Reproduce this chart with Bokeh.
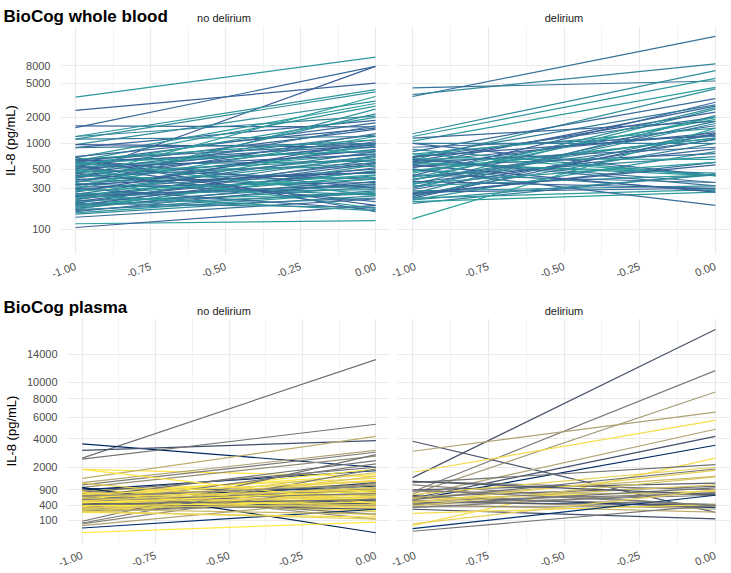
import math
from bokeh.plotting import figure
from bokeh.layouts import column, row
from bokeh.models import (Range1d, FixedTicker, CustomJSTickFormatter, PrintfTickFormatter,
                          ColumnDataSource)
from bokeh.core.properties import value
from bokeh.palettes import Cividis256
from bokeh.embed import file_html
from bokeh.resources import INLINE

# ---------------- data ----------------
time_points = [-1.0, 0.0]
x_ticks = [-1.0, -0.75, -0.5, -0.25, 0.0]
x_minor = [-0.875, -0.625, -0.375, -0.125]

wb_ticks = [100, 300, 500, 1000, 2000, 5000, 8000]
pl_ticks = [100, 400, 900, 2000, 4000, 6000, 8000, 10000, 14000]

row_titles = ["BioCog whole blood", "BioCog plasma"]
strip_labels = ["no delirium", "delirium"]

# BioCog whole blood, no delirium: value at -1, value at 0, colour position (0 blue .. 1 teal)
wb_nodel_pre = [3440, 2410, 1590, 1520, 440, 1200, 1120, 965, 890, 1200, 680, 620,
                600, 560, 540, 520, 500, 480, 470, 450, 430, 420, 400, 390, 380, 370, 360, 350,
                340, 330, 320, 310, 300, 290, 280, 270, 260, 255, 250, 240, 235, 230, 225, 220,
                215, 210, 205, 200, 195, 190, 185, 180, 175, 170, 165, 160, 155, 150,
                138, 116, 105, 650, 600, 550, 500, 450, 680, 300, 250, 200, 1120, 965, 890, 700,
                650, 620, 580, 550, 400, 300, 350, 640, 590, 510, 460, 410, 330, 280, 245, 190, 170]
wb_nodel_post = [10050, 5000, 1550, 7850, 7850, 4210, 3960, 3090, 1850, 2070, 2900, 2700,
                 1730, 620, 1450, 900, 380, 1250, 540, 1100, 300, 980, 760, 1600, 450, 850, 400, 1300,
                 250, 700, 1200, 350, 930, 500, 680, 1050, 290, 800, 430, 600, 320, 1000, 470, 720,
                 260, 580, 420, 650, 340, 520, 310, 480, 390, 560, 280, 360, 270, 245,
                 225, 126, 190, 300, 250, 190, 175, 210, 160, 170, 165, 180, 1200, 900, 1000, 1500,
                 1100, 800, 950, 2000, 3500, 2500, 2200, 1000, 820, 740, 640, 590, 460, 380, 330, 260, 230]
wb_nodel_col = [0.85, 0.15, 0.2, 0.25, 0.1, 0.8, 0.75, 0.7, 0.2, 0.6, 0.9, 0.8,
                0.3, 0.6, 0.2, 0.85, 0.1, 0.5, 0.9, 0.3, 0.7, 0.2, 0.95, 0.4, 0.6, 0.15, 0.85, 0.3,
                0.75, 0.5, 0.9, 0.2, 0.65, 0.35, 0.8, 0.1, 0.7, 0.45, 0.9, 0.25, 0.6, 0.85, 0.3, 0.55,
                0.95, 0.2, 0.7, 0.4, 0.8, 0.15, 0.6, 0.9, 0.35, 0.75, 0.5, 0.25, 0.85, 0.65,
                0.3, 0.9, 0.1, 0.2, 0.8, 0.15, 0.9, 0.3, 0.1, 0.2, 0.85, 0.6, 0.5, 0.1, 0.4, 0.2,
                0.85, 0.15, 0.3, 0.85, 0.9, 0.8, 0.7, 0.4, 0.9, 0.2, 0.75, 0.55, 0.1, 0.95, 0.3, 0.65, 0.5]

# BioCog whole blood, delirium
wb_del_pre = [3500, 3680, 4400, 1290, 1200, 1060, 640, 800, 420, 700, 560, 330, 620, 260, 680,
              450, 1150, 300, 520, 750, 240, 610, 380, 900, 470, 290, 1000, 350, 220, 540, 410,
              660, 250, 580, 320, 760, 200, 430, 280, 360, 230, 500, 210, 270, 132, 1000, 850,
              500, 660, 600, 560, 380, 230, 400, 370, 310, 480, 700, 250, 600, 340, 260, 220, 650]
wb_del_post = [17500, 8400, 5300, 7000, 5700, 4460, 4300, 3300, 3000, 2800, 2700, 2500, 2300, 2100, 2000,
               1900, 1800, 1700, 1600, 1500, 1400, 1320, 1250, 1200, 1150, 1120, 1000, 860, 800, 760, 700,
               650, 600, 450, 430, 420, 440, 350, 320, 300, 290, 280, 270, 300, 1500, 420, 420,
               190, 350, 420, 270, 1100, 1300, 2000, 2600, 1800, 1150, 1250, 1000, 900, 600, 560, 430, 320]
wb_del_col = [0.35, 0.6, 0.4, 0.7, 0.85, 0.9, 0.75, 0.3, 0.15, 0.5, 0.2, 0.8, 0.1, 0.6, 0.35,
              0.9, 0.25, 0.7, 0.15, 0.85, 0.45, 0.2, 0.65, 0.3, 0.9, 0.1, 0.55, 0.2, 0.8, 0.25, 0.6,
              0.9, 0.35, 0.75, 0.85, 0.95, 0.5, 0.3, 0.7, 0.15, 0.85, 0.6, 0.9, 0.2, 0.95, 0.25, 0.7,
              0.3, 0.4, 0.85, 0.1, 0.5, 0.2, 0.9, 0.75, 0.45, 0.8, 0.2, 0.6, 0.3, 0.85, 0.15, 0.7, 0.4]

# BioCog plasma, no delirium (colour position 0 navy .. 1 yellow)
pl_nodel_pre = [2570, 3600, 3100, 2500, 1880, 1400, 1200, 1100,
                1000, 950, 900, 880, 850, 800, 780, 760, 740, 720, 700, 680, 660, 640, 620,
                600, 580, 560, 540, 520, 500, 480, 460, 440, 420, 400, 390, 380, 370, 360, 350,
                340, 330, 320, 310, 300, 290, 280, 270, 260, 250, 240, 235,
                1180, 1000, 900, 800, 700, 600, 500, 450, 90, 70, 61, 26,
                4.4, 45, 235, 260, 300, 1880, 640, 560, 480, 420, 380, 330, 720, 660, 520, 460]
pl_nodel_post = [13200, 2000, 3860, 5290, 1500, 4200, 3110, 2970,
                 2700, 900, 1800, 560, 1400, 2000, 700, 1250, 440, 1600, 840, 380, 1150, 2400, 600,
                 1050, 750, 1900, 500, 1300, 870, 340, 1000, 650, 2200, 480, 1200, 720, 400, 1700, 580,
                 950, 360, 1100, 800, 460, 1500, 630, 420, 780, 540, 680, 520,
                 300, 4, 120, 180, 200, 250, 280, 300, 2800, 1900, 1200, 300,
                 80, 600, 150, 120, 200, 450, 900, 760, 640, 560, 480, 420, 1300, 1100, 980, 860]
pl_nodel_col = [0.45, 0.05, 0.25, 0.45, 0.98, 0.75, 0.7, 0.5,
                0.6, 0.2, 0.05, 0.85, 0.95, 0.4, 0.1, 0.9, 0.55, 1.0, 0.3, 0.8, 0.95, 0.45, 0.9,
                0.15, 0.85, 1.0, 0.6, 0.9, 0.35, 0.95, 0.75, 1.0, 0.5, 0.9, 0.2, 0.95, 0.65, 0.85, 1.0,
                0.4, 0.9, 0.7, 0.95, 0.3, 0.85, 1.0, 0.55, 0.9, 0.1, 0.95, 0.65,
                0.9, 0.02, 0.6, 0.95, 0.5, 0.85, 1.0, 0.3, 0.45, 0.5, 0.55, 0.08,
                1.0, 0.7, 0.95, 0.9, 0.8, 0.98, 0.95, 0.5, 0.9, 0.4, 1.0, 0.85, 0.95, 0.6, 0.9, 1.0]

# BioCog plasma, delirium
pl_del_pre = [1440, 3800, 825, 750, 3040, 1720, 670, 600, 560, 45,
              1260, 1200, 1100, 900, 850, 720, 680, 650, 620, 600, 580, 560, 540, 520, 500, 480,
              460, 440, 420, 400, 380, 360, 340, 300,
              215, 22, 9, 1260, 900, 61]
pl_del_post = [18100, 234, 11600, 8800, 6500, 5660, 4830, 4200, 3490, 2570,
               900, 2160, 380, 1180, 720, 2000, 340, 1040, 1500, 420, 850, 1900, 300, 760, 1100, 400,
               1820, 700, 240, 980, 1480, 360, 800, 121,
               420, 700, 400, 720, 400, 900]
pl_del_col = [0.3, 0.3, 0.5, 0.65, 0.7, 0.95, 0.7, 0.25, 0.05, 0.95,
              0.5, 0.45, 0.55, 0.35, 0.6, 0.9, 0.05, 0.4, 0.8, 0.5, 0.95, 0.45, 0.7, 0.5, 0.85, 0.3,
              0.9, 0.5, 0.75, 0.45, 0.85, 0.55, 0.5, 0.25,
              0.95, 0.1, 0.45, 0.3, 0.5, 0.9]

# ---------------- styling helpers ----------------
FONT = "Liberation Sans"
WB_LOW = (0x3D, 0x55, 0x98)
WB_HIGH = (0x2B, 0xA5, 0x9C)


def wb_color(t):
    r, g, b = (int(round(lo + (hi - lo) * t)) for lo, hi in zip(WB_LOW, WB_HIGH))
    return "#%02x%02x%02x" % (r, g, b)


def pl_color(t):
    return Cividis256[int(round(t * 255))]


LEFT_W, GAP, FRAME_W = 57, 7, 333
TOTAL_W = LEFT_W + FRAME_W + GAP + FRAME_W
ROW1 = dict(header=26, frame=228, bottom=32, title_y=10, strip_y=8.5)
ROW2 = dict(header=32, frame=230, bottom=25, title_y=11, strip_y=8)


def make_header(title, dims):
    h = dims["header"]
    p = figure(width=TOTAL_W, height=h, output_backend="svg", toolbar_location=None,
               x_range=Range1d(0, TOTAL_W), y_range=Range1d(0, h), title=None,
               x_axis_location=None, y_axis_location=None)
    p.min_border = 0
    p.min_border_left = p.min_border_right = p.min_border_top = p.min_border_bottom = 0
    p.outline_line_color = None
    p.xgrid.visible = False
    p.ygrid.visible = False
    p.text(x=[3], y=[dims["title_y"]], text=[title], text_font=value(FONT),
           text_font_size="17px", text_font_style="bold", text_color="#000000",
           text_align="left", text_baseline="alphabetic")
    centers = [LEFT_W + FRAME_W / 2, LEFT_W + FRAME_W + GAP + FRAME_W / 2]
    p.text(x=centers, y=[dims["strip_y"]] * 2, text=strip_labels, text_font=value(FONT),
           text_font_size="11px", text_color="#1A1A1A",
           text_align="center", text_baseline="alphabetic")
    return p


def make_panel(yrange, ytick_vals, formatter_code, left, dims):
    h = dims["frame"] + dims["bottom"]
    w = (LEFT_W if left else GAP) + FRAME_W
    kw = dict(y_axis_type="log") if yrange[2] == "log" else {}
    p = figure(width=w, height=h, output_backend="svg", toolbar_location=None, title=None,
               x_range=Range1d(-1.05, 0.05), y_range=Range1d(yrange[0], yrange[1]), **kw)
    p.min_border_left = LEFT_W if left else GAP
    p.min_border_right = 0
    p.min_border_top = 0
    p.min_border_bottom = dims["bottom"]
    p.outline_line_color = None
    p.background_fill_color = "white"
    p.border_fill_color = "white"

    xa = p.xaxis[0]
    xa.ticker = FixedTicker(ticks=x_ticks, minor_ticks=x_minor)
    xa.formatter = PrintfTickFormatter(format="%.2f")
    xa.major_label_orientation = 0.36
    ya = p.yaxis[0]
    ya.ticker = FixedTicker(ticks=ytick_vals)
    ya.formatter = CustomJSTickFormatter(code=formatter_code)
    for ax in (xa, ya):
        ax.axis_line_color = None
        ax.major_tick_line_color = None
        ax.minor_tick_line_color = None
        ax.major_label_text_font = FONT
        ax.major_label_text_font_size = "11px"
        ax.major_label_text_color = "#4D4D4D"
    xa.major_label_standoff = 5
    ya.major_label_standoff = 4
    if left:
        ya.axis_label = "IL-8 (pg/mL)"
        ya.axis_label_text_font = FONT
        ya.axis_label_text_font_size = "13px"
        ya.axis_label_text_font_style = "normal"
        ya.axis_label_text_color = "#000000"
        ya.axis_label_standoff = 5
    else:
        ya.visible = False

    p.xgrid.grid_line_color = "#EBEBEB"
    p.xgrid.grid_line_width = 1.2
    p.xgrid.minor_grid_line_color = "#EBEBEB"
    p.xgrid.minor_grid_line_width = 0.6
    p.ygrid.grid_line_color = "#EBEBEB"
    p.ygrid.grid_line_width = 1.2
    return p


def add_lines(p, pre, post, cols, colorfn, transform):
    src = ColumnDataSource(dict(
        xs=[list(time_points) for _ in pre],
        ys=[[transform(a), transform(b)] for a, b in zip(pre, post)],
        color=[colorfn(c) for c in cols],
    ))
    p.multi_line(xs="xs", ys="ys", line_color="color", line_width=1.2, source=src)


ident = lambda v: v
sq = lambda v: math.sqrt(v)

log_code = "return Math.round(tick).toString();"
sqrt_code = "return Math.round(tick*tick).toString();"

wb_range = (10 ** 1.707, 10 ** 4.358, "log")
pl_range = (-5.0, 141.7, "lin")
pl_tick_pos = [math.sqrt(v) for v in pl_ticks]

h1 = make_header(row_titles[0], ROW1)
h2 = make_header(row_titles[1], ROW2)
p1 = make_panel(wb_range, wb_ticks, log_code, True, ROW1)
p2 = make_panel(wb_range, wb_ticks, log_code, False, ROW1)
p3 = make_panel(pl_range, pl_tick_pos, sqrt_code, True, ROW2)
p4 = make_panel(pl_range, pl_tick_pos, sqrt_code, False, ROW2)

add_lines(p1, wb_nodel_pre, wb_nodel_post, wb_nodel_col, wb_color, ident)
add_lines(p2, wb_del_pre, wb_del_post, wb_del_col, wb_color, ident)
add_lines(p3, pl_nodel_pre, pl_nodel_post, pl_nodel_col, pl_color, sq)
add_lines(p4, pl_del_pre, pl_del_post, pl_del_col, pl_color, sq)

layout = column(h1, row(p1, p2, spacing=0), h2, row(p3, p4, spacing=0), spacing=0)

with open("out.html", "w") as f:
    f.write(file_html(layout, INLINE))
